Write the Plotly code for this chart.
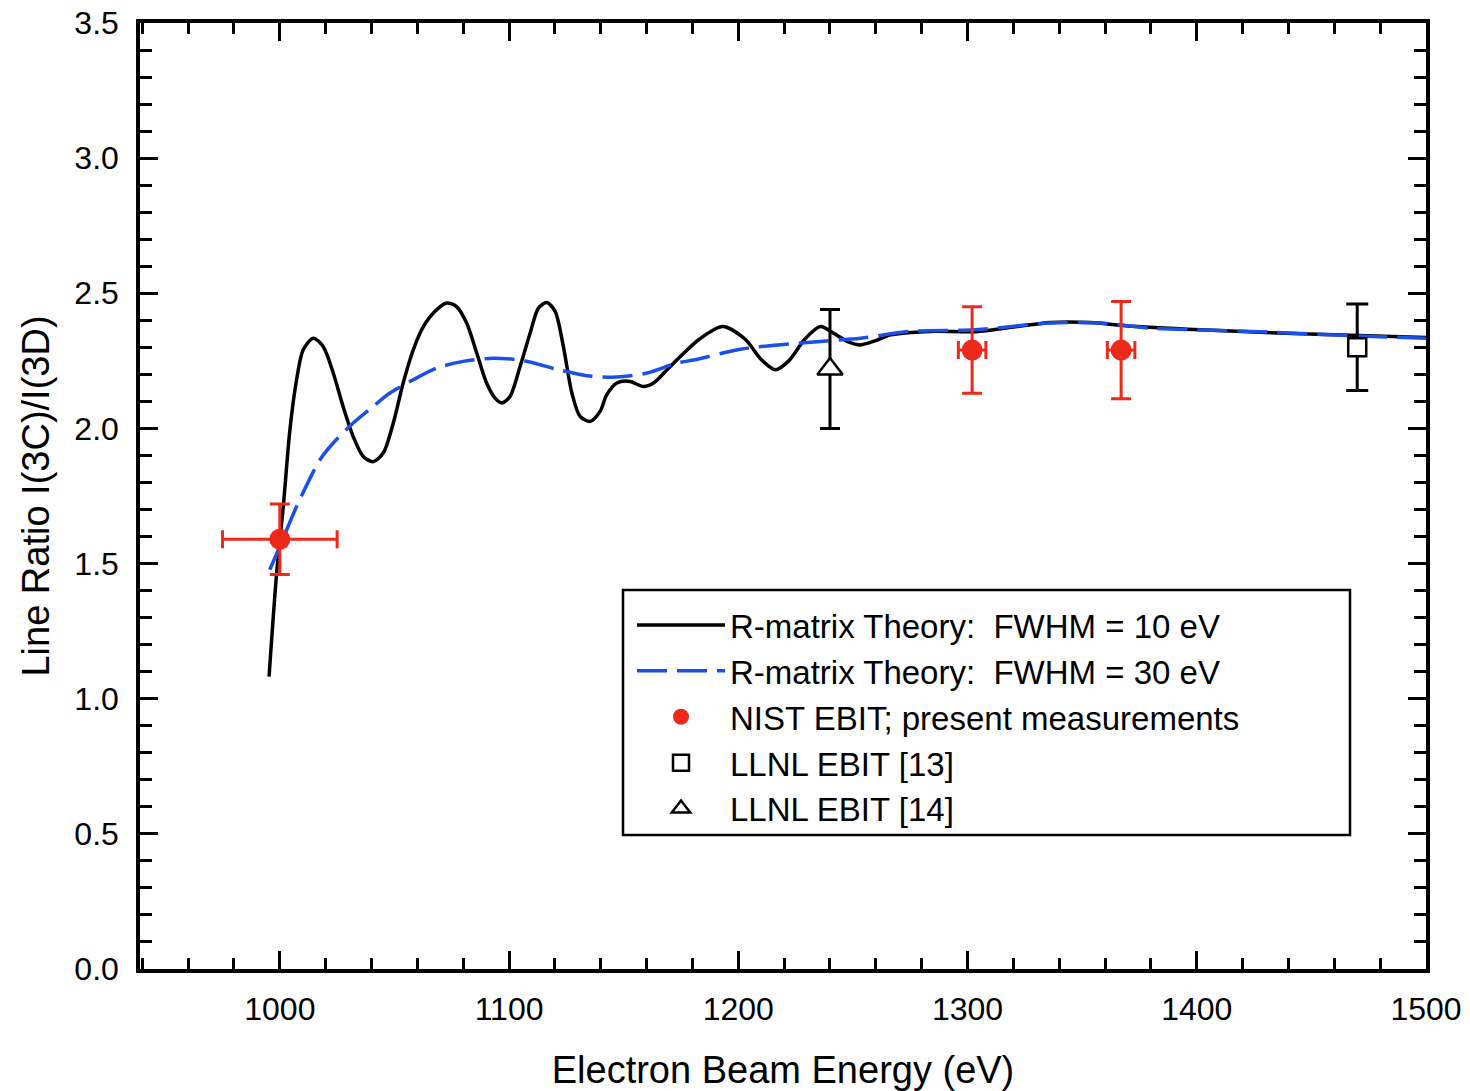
import plotly.graph_objects as go

# ---- data ----
theory10_x = [995.3, 998.6, 1001.5, 1004.4, 1007.3, 1010.2, 1014.6, 1018.9, 1023.3, 1027.6,
              1032.0, 1036.4, 1040.7, 1045.1, 1049.5, 1053.8, 1058.2, 1062.6, 1068.4, 1072.8,
              1077.1, 1081.5, 1085.9, 1090.2, 1093.9, 1096.8, 1100.4, 1104.8, 1109.2, 1112.8,
              1116.5, 1120.1, 1123.7, 1127.4, 1131.0, 1135.4, 1139.7, 1142.6, 1147.0, 1152.8,
              1158.6, 1163.0, 1168.9, 1174.7, 1183.0, 1193.2, 1203.0, 1210.0, 1216.2, 1222.0,
              1229.0, 1235.8, 1242.0, 1248.0, 1253.3, 1260.0, 1266.4, 1283.8, 1303.5, 1320.0,
              1336.2, 1353.7, 1369.0, 1401.7, 1445.4, 1500.0]
theory10_y = [1.082, 1.464, 1.711, 1.995, 2.180, 2.291, 2.334, 2.303, 2.205, 2.081,
              1.970, 1.896, 1.877, 1.909, 2.020, 2.168, 2.291, 2.377, 2.439, 2.464,
              2.451, 2.390, 2.279, 2.168, 2.112, 2.094, 2.118, 2.229, 2.353, 2.445,
              2.466, 2.433, 2.303, 2.131, 2.044, 2.026, 2.063, 2.124, 2.168, 2.174,
              2.155, 2.168, 2.217, 2.266, 2.330, 2.377, 2.330, 2.255, 2.217, 2.250,
              2.330, 2.377, 2.350, 2.320, 2.309, 2.325, 2.346, 2.359, 2.358, 2.375,
              2.392, 2.392, 2.380, 2.365, 2.350, 2.336]

theory30_x = [995.6, 1000.0, 1007.3, 1017.5, 1023.3, 1032.0, 1040.7, 1048.0, 1058.2, 1068.4,
              1080.0, 1093.1, 1106.2, 1120.8, 1133.9, 1147.0, 1160.1, 1173.2, 1181.2, 1200.9,
              1227.1, 1253.3, 1275.1, 1303.5, 1336.2, 1358.0, 1380.0, 1423.6, 1467.2, 1500.0]
theory30_y = [1.477, 1.563, 1.711, 1.884, 1.946, 2.020, 2.081, 2.131, 2.180, 2.223,
              2.248, 2.260, 2.251, 2.219, 2.195, 2.190, 2.205, 2.242, 2.254, 2.293,
              2.316, 2.334, 2.359, 2.365, 2.390, 2.390, 2.371, 2.359, 2.343, 2.334]

nist_x = [1000, 1302, 1367]
nist_y = [1.59, 2.29, 2.29]
nist_yerr = [0.13, 0.16, 0.18]
nist_xerr = [25, 6, 6]

llnl13_x = [1470]
llnl13_y = [2.30]
llnl13_yerr = [0.16]

llnl14_x = [1240]
llnl14_y = [2.22]
llnl14_yerr = [0.22]

x_tickvals = [1000, 1100, 1200, 1300, 1400, 1500]
y_tickvals = [0.0, 0.5, 1.0, 1.5, 2.0, 2.5, 3.0, 3.5]

RED = "rgb(238,40,26)"
BLUE = "rgb(26,80,230)"
FONT = "Liberation Sans, Arial, Helvetica, sans-serif"

W, H = 1470, 1091
ML, MR, MT, MB = 140, 44, 23, 122
PW, PH = W - ML - MR, H - MT - MB


def px_to_paper_x(px):
    return (px - ML) / PW


def px_to_paper_y(py):
    return (H - MB - py) / PH


fig = go.Figure()

fig.add_trace(go.Scatter(
    x=theory10_x, y=theory10_y, mode="lines",
    line=dict(color="black", width=3.5, shape="spline", smoothing=0.8),
    name="R-matrix Theory:  FWHM = 10 eV"))

fig.add_trace(go.Scatter(
    x=theory30_x, y=theory30_y, mode="lines",
    line=dict(color=BLUE, width=3.5, shape="spline", smoothing=0.8, dash="30px,10px"),
    name="R-matrix Theory:  FWHM = 30 eV"))

fig.add_trace(go.Scatter(
    x=nist_x, y=nist_y, mode="markers",
    marker=dict(color=RED, size=21, symbol="circle"),
    error_y=dict(type="data", array=nist_yerr, color=RED, thickness=3, width=10),
    error_x=dict(type="data", array=nist_xerr, color=RED, thickness=3, width=9),
    name="NIST EBIT; present measurements"))

fig.add_trace(go.Scatter(
    x=llnl13_x, y=llnl13_y, mode="markers",
    marker=dict(color="white", size=18, symbol="square", line=dict(color="black", width=2.5)),
    error_y=dict(type="data", array=llnl13_yerr, color="black", thickness=3, width=11),
    name="LLNL EBIT [13]"))

fig.add_trace(go.Scatter(
    x=llnl14_x, y=llnl14_y, mode="markers",
    marker=dict(color="white", size=22, symbol="triangle-up", line=dict(color="black", width=2.5)),
    error_y=dict(type="data", array=llnl14_yerr, color="black", thickness=3, width=10),
    name="LLNL EBIT [14]"))

axis_common = dict(
    showline=True, linecolor="black", linewidth=3.5, mirror="ticks",
    ticks="inside", ticklen=18, tickwidth=3, tickcolor="black",
    showgrid=False, zeroline=False, automargin=False,
    tickfont=dict(family=FONT, size=32, color="black"),
)

fig.update_xaxes(
    range=[939, 1500], tickmode="array", tickvals=x_tickvals,
    ticktext=[str(v) for v in x_tickvals],
    minor=dict(ticks="inside", ticklen=11, tickwidth=3, tickcolor="black", dtick=20, tick0=1000),
    title=dict(text="Electron Beam Energy (eV)", font=dict(family=FONT, size=38, color="black"), standoff=34),
    ticklabelstandoff=9,
    **axis_common)

fig.update_yaxes(
    range=[0, 3.5], tickmode="array", tickvals=y_tickvals,
    ticktext=[f"{v:.1f}" for v in y_tickvals],
    minor=dict(ticks="inside", ticklen=12, tickwidth=3, tickcolor="black", dtick=0.1, tick0=0),
    title=dict(text="Line Ratio I(3C)/I(3D)", font=dict(family=FONT, size=38, color="black"), standoff=14),
    ticklabelstandoff=11,
    **axis_common)

# legend frame (the legend itself is drawn without a border inside it)
fig.add_shape(type="rect", xref="paper", yref="paper",
              x0=px_to_paper_x(623), x1=px_to_paper_x(1350),
              y0=px_to_paper_y(835), y1=px_to_paper_y(590),
              line=dict(color="black", width=2.5), fillcolor="white", layer="above")

fig.update_layout(
    width=W, height=H,
    margin=dict(l=ML, r=MR, t=MT, b=MB),
    paper_bgcolor="white", plot_bgcolor="white",
    font=dict(family=FONT, color="black"),
    showlegend=True,
    legend=dict(
        x=px_to_paper_x(632), y=px_to_paper_y(597), xanchor="left", yanchor="top",
        bgcolor="rgba(0,0,0,0)", borderwidth=0,
        font=dict(family=FONT, size=33, color="black"),
        itemwidth=88, tracegroupgap=0,
    ),
)

fig.write_html("out.html")
